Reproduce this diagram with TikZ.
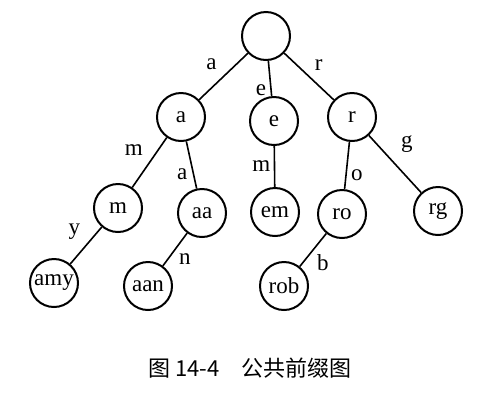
\documentclass[tikz,border=0pt]{standalone}
\usepackage{fontspec}
\setmainfont{Liberation Serif}
\newfontfamily\cjk{Noto Sans CJK SC}
\usetikzlibrary{automata,positioning}

\begin{document}
\begin{tikzpicture}[
    auto,
    on grid, % distances between centres
    line width = 1.6pt, % line style
    font = \fontsize{23}{23}\selectfont,
    every edge/.append style = {line width = 1.6pt}
    ]

    \tikzset{every state/.style={
    draw = black,
    line width = 2pt,
    fill = white,
    minimum size = 48pt,
    inner sep = 0pt
    }}
    \useasboundingbox (0,0) rectangle (502pt,-400pt);

    \node[state] (root) at (266pt,-36pt) {};
    \node[state] (a) [below left=81pt and 85pt of root] {a};
    \node[state] (e) [below right=85pt and 8pt of root] {e};
    \node[state] (r) [below right=81pt and 86pt of root] {r};
    \node[state] (m) [below left=91pt and 63pt of a] {m};
    \node[state] (aa) [below right=96pt and 21pt of a] {aa};
    \node[state] (em) [below right=91pt and 1pt of e] {em};
    \node[state] (ro) [below left=97pt and 10pt of r] {ro};
    \node[state] (rg) [below right=94pt and 86pt of r] {rg};
    \node[state] (amy) [below left=75pt and 64pt of m] {amy};
    \node[state] (aan) [below left=73pt and 54pt of aa] {aan};
    \node[state] (rob) [below left=72pt and 58pt of ro] {rob};

    \path (root) edge node[swap,inner sep=6pt]{a} (a);
    \path (root) edge node[swap,pos=0.55]{e} (e);
    \path (root) edge node[inner sep=5pt]{r} (r);
    \path (a) edge node[swap,inner sep=6pt]{m} (m);
    \path (a) edge node[swap]{a} (aa);
    \path (e) edge node[swap]{m} (em);
    \path (r) edge node{o} (ro);
    \path (r) edge node[pos=0.45,inner sep=8pt]{g} (rg);
    \path (m) edge node[swap,inner sep=5pt]{y} (amy);
    \path (aa) edge node{n} (aan);
    \path (ro) edge node{b} (rob);

    \node[font=\cjk\fontsize{22}{22}\selectfont] (caption) at (250pt,-368pt) {图 14-4\hspace{1em}公共前缀图};
\end{tikzpicture}
\end{document}
